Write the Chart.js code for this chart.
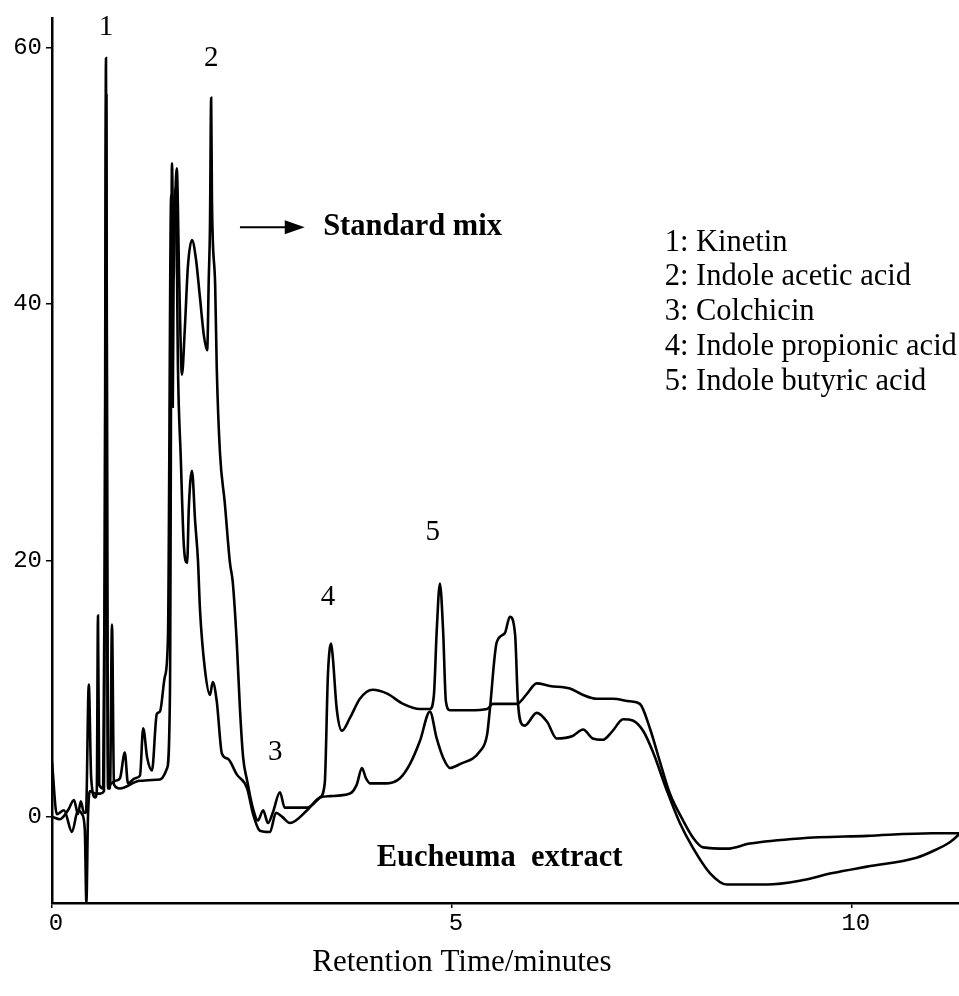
<!DOCTYPE html>
<html>
<head>
<meta charset="utf-8">
<script src="https://cdn.jsdelivr.net/npm/chart.js@4.4.1/dist/chart.umd.min.js"></script>
<style>
  html, body { margin: 0; padding: 0; background: #fff; }
  #wrap { width: 959px; height: 996px; position: relative; }
</style>
</head>
<body>
<div id="wrap"><canvas id="c"></canvas></div>
<script>
// ---- Data (retention time in minutes, detector signal) ----
const stdTime = [0,0.06,0.15,0.25,0.325,0.375,0.41,0.43,0.45,0.475,0.54,0.6,0.65,0.66,0.675,0.69,0.7,0.725,0.75,0.775,0.85,1.1,1.35,1.44,1.475,1.5,1.52,1.54,1.56,1.59,1.625,1.66,1.7,1.75,1.8,1.85,1.9,1.94,1.96,1.975,1.99,2.0,2.04,2.06,2.1,2.16,2.225,2.26,2.31,2.35,2.39,2.44,2.51,2.575,2.64,2.7,2.76,2.85,2.91,3.1,3.19,3.35,3.41,3.45,3.49,3.51,3.56,3.625,3.725,3.85,4.01,4.19,4.39,4.6,4.725,4.775,4.81,4.85,4.89,4.925,4.975,5.225,5.44,5.51,5.81,5.94,6.06,6.225,6.475,6.64,6.81,7.01,7.225,7.35,7.475,7.6,7.725,7.89,8.01,8.14,8.44,8.725,9.35,10.19,11.01,11.34];
const stdSignal = [4.3,0.2,0.5,-1.2,0.5,0.2,-1.0,-6.7,0.0,2.0,1.8,1.8,2.0,20,59.2,20,2.2,2.2,15.0,2.5,2.2,2.8,2.9,3.8,9.8,51.0,42,48,50.6,42,34.5,38,43,45.0,43.5,40.5,37.5,36.4,42,46,56.1,48,41.5,35,28.4,24.5,19.8,18.3,13.6,8.4,4.6,2.8,0.7,-0.3,0.5,-0.5,0.3,1.9,0.7,0.7,0.7,1.5,2.6,11.1,13.5,12.5,8.4,6.7,7.7,9.2,9.9,9.6,8.8,8.4,8.4,9.5,14.5,18.2,14.5,9.0,8.3,8.3,8.4,8.8,8.8,9.6,10.4,10.2,10.0,9.5,9.2,9.2,9.0,8.8,6.9,4.3,1.8,-0.3,-1.6,-2.4,-2.5,-2.1,-1.7,-1.5,-1.3,-1.3];

const extTime = [0,0.1,0.2,0.275,0.325,0.36,0.4,0.425,0.46,0.49,0.54,0.56,0.575,0.59,0.64,0.66,0.68,0.69,0.71,0.79,0.85,0.91,0.95,1.04,1.1,1.14,1.19,1.25,1.31,1.35,1.41,1.45,1.49,1.51,1.525,1.55,1.575,1.61,1.65,1.69,1.71,1.75,1.79,1.825,1.85,1.91,1.975,2.01,2.06,2.125,2.2,2.31,2.44,2.51,2.6,2.725,2.8,2.875,2.975,3.19,3.35,3.475,3.725,3.81,3.875,3.925,3.975,4.19,4.35,4.475,4.6,4.725,4.81,4.89,4.975,5.1,5.35,5.44,5.475,5.56,5.66,5.725,5.79,5.825,5.875,5.91,6.06,6.19,6.31,6.51,6.64,6.76,6.89,7.01,7.14,7.26,7.39,7.51,7.69,7.85,8.01,8.225,8.44,8.94,9.35,9.76,10.19,10.81,11.01,11.225,11.34];
const extSignal = [0.0,-0.2,0.5,1.3,0.2,1.2,0.3,0.3,10.3,3.0,1.5,2.0,15.7,2.5,2.2,20,56.3,20,2.5,2.8,3.0,5.0,2.6,3.0,3.2,6.9,4.6,3.6,8.0,8.2,10.9,14,48.5,32,47,49,35,28,21,19.8,24,27.0,23,20,16.2,11.6,9.5,10.5,9.0,4.9,4.5,3.3,2.2,0.3,-1.1,-1.2,0.3,0.0,-0.5,0.5,1.5,1.6,1.8,2.5,3.8,3.0,2.6,2.6,3.0,4.1,5.9,8.2,6.1,4.6,3.8,4.1,5.1,6.4,8.4,13.6,14.3,15.6,14.2,9.0,7.2,7.1,8.1,7.4,6.1,6.3,6.8,6.1,6.0,6.7,7.6,7.5,6.7,5.1,2.0,-0.5,-2.4,-4.4,-5.3,-5.3,-5.0,-4.4,-3.9,-3.2,-2.7,-2.0,-1.4];

const xTickValues = [0, 5, 10];
const yTickValues = [0, 20, 40, 60];

const peakLabels = ['1', '2', '3', '4', '5'];
const peakLabelTime = [0.675, 1.99, 2.79, 3.45, 4.76];
const peakLabelSignal = [61.6, 59.2, 5.0, 17.1, 22.2];

const compoundList = ['1: Kinetin', '2: Indole acetic acid', '3: Colchicin', '4: Indole propionic acid', '5: Indole butyric acid'];
const seriesNames = ['Standard mix', 'Eucheuma  extract'];
const xAxisTitle = 'Retention Time/minutes';

// ---- Annotation anchors (data units) ----
const arrowTime = [2.35, 3.16];
const arrowSignal = 46.0;
const stdLabelAt = { t: 3.39, v: 46.0 };
const extLabelAt = { t: 4.06, v: -3.26 };
const listAt = { t: 7.66, v: 44.8 };
const titleAtTime = 5.125;

const toPts = (xs, ys) => xs.map((x, i) => ({ x: x, y: ys[i] }));

const annot = {
  id: 'annot',
  afterDatasetsDraw(chart) {
    const ctx = chart.ctx;
    const xs = chart.scales.x, ys = chart.scales.y;
    const X = t => xs.getPixelForValue(t), Y = v => ys.getPixelForValue(v);
    ctx.save();
    ctx.fillStyle = '#000';
    ctx.strokeStyle = '#000';
    // peak numbers
    ctx.font = '29px "Liberation Serif"';
    ctx.textAlign = 'center';
    ctx.textBaseline = 'middle';
    peakLabels.forEach((s, i) => ctx.fillText(s, X(peakLabelTime[i]), Y(peakLabelSignal[i])));
    // arrow
    const ax1 = X(arrowTime[0]), ax2 = X(arrowTime[1]), ay = Y(arrowSignal);
    ctx.lineWidth = 2;
    ctx.beginPath(); ctx.moveTo(ax1, ay); ctx.lineTo(ax2 - 16, ay); ctx.stroke();
    ctx.beginPath(); ctx.moveTo(ax2, ay); ctx.lineTo(ax2 - 20, ay - 7); ctx.lineTo(ax2 - 20, ay + 7); ctx.closePath(); ctx.fill();
    // series labels
    ctx.font = 'bold 30.5px "Liberation Serif"';
    ctx.textAlign = 'left';
    ctx.fillText(seriesNames[0], X(stdLabelAt.t), Y(stdLabelAt.v));
    ctx.fillText(seriesNames[1], X(extLabelAt.t), Y(extLabelAt.v));
    // compound list
    ctx.font = '30.5px "Liberation Serif"';
    let ly = Y(listAt.v);
    compoundList.forEach(s => { ctx.fillText(s, X(listAt.t), ly); ly += 34.8; });
    // x axis title
    ctx.textAlign = 'center';
    ctx.font = '31px "Liberation Serif"';
    ctx.fillText(xAxisTitle, X(titleAtTime), chart.chartArea.bottom + 60);
    ctx.restore();
  }
};

const lineStyle = { borderColor: '#000', borderWidth: 2.6, pointRadius: 0, showLine: true, fill: false, cubicInterpolationMode: 'monotone' };

new Chart(document.getElementById('c'), {
  type: 'scatter',
  data: {
    datasets: [
      Object.assign({ label: seriesNames[0], data: toPts(stdTime, stdSignal) }, lineStyle),
      Object.assign({ label: seriesNames[1], data: toPts(extTime, extSignal) }, lineStyle)
    ]
  },
  options: {
    responsive: true,
    maintainAspectRatio: false,
    devicePixelRatio: 1,
    animation: false,
    layout: { padding: { top: 12, right: 0, left: 0, bottom: 0 } },
    plugins: { legend: { display: false }, tooltip: { enabled: false } },
    scales: {
      x: {
        type: 'linear',
        min: 0,
        max: 11.34,
        afterBuildTicks: s => { s.ticks = xTickValues.map(v => ({ value: v })); },
        afterFit: s => { s.height = 93; },
        grid: { drawOnChartArea: false, drawTicks: true, tickLength: 5, color: '#000', lineWidth: 1.5 },
        border: { display: true, color: '#000', width: 2.5 },
        ticks: { color: '#000', padding: 1, labelOffset: 4, font: { family: '"Liberation Mono"', size: 24 }, maxRotation: 0 }
      },
      y: {
        type: 'linear',
        min: -6.74,
        max: 62.3,
        afterBuildTicks: s => { s.ticks = yTickValues.map(v => ({ value: v })); },
        afterFit: s => { s.width = 52; },
        grid: { drawOnChartArea: false, drawTicks: true, tickLength: 6, color: '#000', lineWidth: 1.5 },
        border: { display: true, color: '#000', width: 2.5 },
        ticks: { color: '#000', padding: 4, font: { family: '"Liberation Mono"', size: 24 } }
      }
    }
  },
  plugins: [annot]
});
</script>
</body>
</html>
